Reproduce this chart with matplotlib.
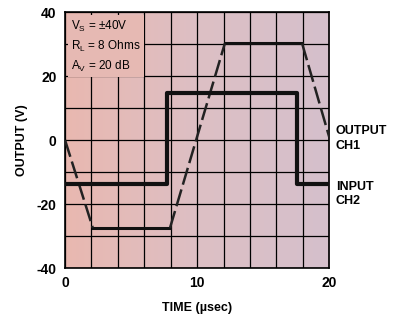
import numpy as np
import matplotlib.pyplot as plt
from matplotlib.colors import LinearSegmentedColormap

plt.rcParams['font.family'] = ['Liberation Sans', 'DejaVu Sans']
plt.rcParams['mathtext.fontset'] = 'custom'
plt.rcParams['mathtext.rm'] = 'Liberation Sans'

# output (CH1): flat parts solid, slewing parts dashed
out_flat_t = [[2.1, 7.95], [12.1, 17.95]]
out_flat_v = [[-27.4, -27.4], [30.2, 30.2]]
out_slew_t = [[0, 2.1], [7.95, 12.1], [17.95, 20]]
out_slew_v = [[0, -27.4], [-27.4, 30.2], [30.2, 1.0]]

# input (CH2)
in_t = [0, 7.7, 7.7, 17.6, 17.6, 20]
in_v = [-13.8, -13.8, 14.6, 14.6, -13.8, -13.8]

fig = plt.figure(figsize=(3.99, 3.25), dpi=100)
ax = fig.add_axes([0.163, 0.175, 0.662, 0.788])

cmap = LinearSegmentedColormap.from_list('bg', ['#e9b8b0', '#ddbfc4', '#d5c0cc'])
grad = np.linspace(0, 1, 256).reshape(1, -1)
ax.imshow(grad, cmap=cmap, aspect='auto', extent=[0, 20, -40, 40], zorder=0)

ax.set_xlim(0, 20)
ax.set_ylim(-40, 40)
ax.set_xticks(np.arange(0, 21, 2))
ax.set_yticks(np.arange(-40, 41, 10))
ax.grid(True, color='black', linewidth=0.9, zorder=1)
ax.set_axisbelow(False)
ax.tick_params(length=0, pad=6)
ax.set_xticklabels(['0', '', '', '', '', '10', '', '', '', '', '20'],
                   fontsize=10, fontweight='bold')
ax.set_yticklabels(['-40', '', '-20', '', '0', '', '20', '', '40'],
                   fontsize=10, fontweight='bold')
for s in ax.spines.values():
    s.set_linewidth(1.2)

for t, v in zip(out_flat_t, out_flat_v):
    ax.plot(t, v, color='#111111', linewidth=2.2, zorder=4)
for t, v in zip(out_slew_t, out_slew_v):
    ax.plot(t, v, color='#222222', linewidth=1.8, linestyle=(0, (7, 2)), zorder=4)
ax.plot(in_t, in_v, color='#111111', linewidth=3.0, zorder=5)

ax.set_xlabel('TIME (\u00b5sec)', fontsize=9, fontweight='bold', labelpad=8)
ax.set_ylabel('OUTPUT (V)', fontsize=9, fontweight='bold', labelpad=6)

ax.text(0.45, 38.0, 'V$_\\mathrm{S}$ = \u00b140V\nR$_\\mathrm{L}$ = 8 Ohms\nA$_\\mathrm{V}$ = 20 dB',
        fontsize=8.5, va='top', ha='left', linespacing=1.45, zorder=6,
        bbox=dict(facecolor='#e6b9b3', edgecolor='none', pad=2.5))

ax.text(20.5, 0.6, 'OUTPUT\nCH1', fontsize=9, fontweight='bold', va='center',
        ha='left', linespacing=1.3, clip_on=False)
ax.text(20.5, -16.8, 'INPUT\nCH2', fontsize=9, fontweight='bold', va='center',
        ha='left', linespacing=1.3, clip_on=False)

fig.savefig('out.png', dpi=100)
